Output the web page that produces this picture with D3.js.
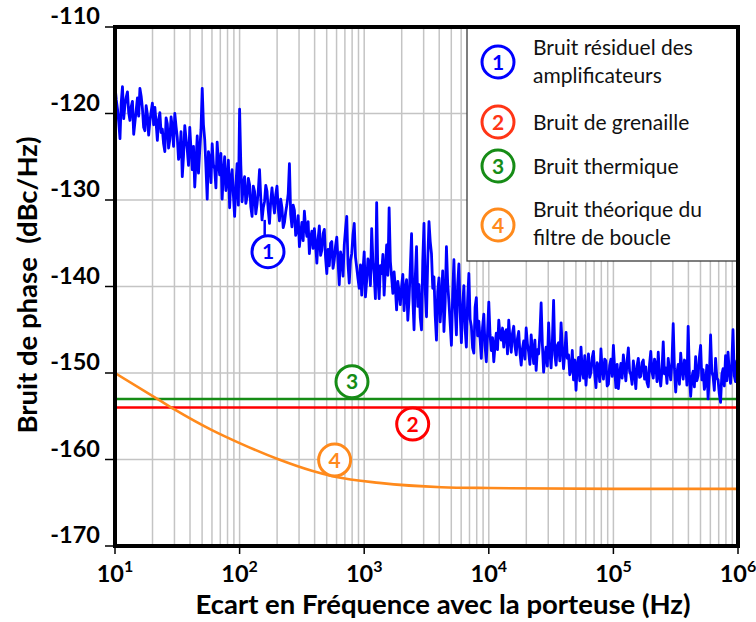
<!DOCTYPE html>
<html>
<head>
<meta charset="utf-8">
<script src="https://cdn.jsdelivr.net/npm/d3@7"></script>
<style>
  body { margin: 0; background: #fff; }
  svg { display: block; }
  text { font-family: Lato, "Open Sans", sans-serif; }
</style>
</head>
<body>
<svg id="chart" width="756" height="622"></svg>
<script>
// Residual amplifier phase noise (dBc/Hz), 100 samples per decade from 10 Hz to 1 MHz
const residualDb = [
  // 10 Hz - 100 Hz
  -116.8, -118.4, -119.5, -121.0, -122.9, -118.7, -116.9, -120.6, -119.0, -118.1,
  -117.5, -119.9, -120.8, -119.2, -118.6, -122.4, -121.0, -119.6, -118.2, -120.3,
  -117.1, -118.0, -119.4, -121.6, -122.0, -119.1, -120.1, -122.5, -120.9, -119.8,
  -118.8, -121.3, -119.3, -121.1, -123.1, -120.7, -119.9, -122.2, -121.8, -123.5,
  -124.4, -120.5, -121.2, -124.0, -123.0, -120.4, -121.6, -123.8, -120.0, -121.5,
  -122.8, -125.3, -124.6, -122.1, -127.3, -124.9, -121.4, -122.9, -124.2, -126.0,
  -121.6, -124.1, -126.5, -123.8, -128.5, -125.6, -122.6, -126.9, -124.3, -121.9,
  -117.1, -121.3, -123.0, -126.2, -129.9, -124.4, -125.2, -128.0, -123.5, -125.9,
  -126.4, -128.6, -123.3, -125.7, -127.1, -124.6, -129.9, -126.8, -125.0, -128.9,
  -127.8, -125.4, -130.9, -127.6, -126.5, -129.4, -131.9, -128.3, -125.8, -130.6,
  // 100 Hz - 1 kHz
  -119.5, -126.0, -130.2, -128.1, -127.3, -130.4, -129.6, -127.5, -128.2, -130.8,
  -131.9, -128.4, -129.0, -131.6, -130.5, -128.9, -126.5, -129.8, -132.3, -130.9,
  -130.2, -128.3, -129.0, -131.2, -132.7, -130.1, -128.6, -130.3, -131.5, -129.4,
  -128.4, -131.0, -132.4, -129.9, -130.9, -133.2, -132.6, -131.4, -130.5, -129.3,
  -125.8, -131.7, -133.1, -130.6, -131.2, -134.1, -133.5, -131.8, -135.4, -133.9,
  -132.6, -134.7, -131.3, -133.2, -134.2, -132.5, -136.2, -134.4, -133.6, -135.6,
  -133.3, -135.1, -137.3, -134.5, -133.0, -136.4, -135.8, -133.9, -133.4, -136.7,
  -138.5, -135.7, -137.6, -135.0, -134.8, -137.9, -136.9, -135.3, -134.3, -137.1,
  -139.8, -136.0, -136.7, -138.8, -135.2, -133.4, -131.9, -137.4, -139.6, -137.0,
  -136.2, -134.0, -132.7, -136.6, -137.8, -139.1, -140.2, -137.5, -141.0, -138.2,
  // 1 kHz - 10 kHz
  -136.0, -141.2, -139.3, -136.8, -137.5, -139.9, -133.3, -137.2, -138.6, -141.4,
  -130.3, -139.0, -141.4, -137.6, -138.5, -136.3, -141.0, -138.0, -135.2, -138.7,
  -130.9, -137.1, -138.9, -140.8, -138.3, -140.1, -142.7, -139.4, -140.6, -142.1,
  -140.0, -138.6, -142.8, -140.3, -139.2, -143.9, -141.5, -137.8, -133.9, -141.2,
  -145.0, -138.9, -135.4, -142.3, -139.8, -143.6, -145.0, -137.0, -132.7, -140.5,
  -143.5, -136.9, -132.5, -134.8, -136.2, -140.2, -138.9, -143.4, -146.2, -140.6,
  -139.0, -144.1, -141.3, -138.2, -145.2, -141.7, -135.4, -139.6, -141.8, -144.3,
  -146.8, -140.9, -136.9, -142.5, -145.6, -139.8, -137.4, -143.0, -146.5, -142.2,
  -139.9, -144.9, -147.0, -141.6, -138.5, -143.8, -144.6, -147.1, -147.7, -142.4,
  -141.3, -145.7, -144.0, -146.1, -148.3, -144.7, -143.2, -146.9, -148.7, -145.3,
  // 10 kHz - 100 kHz
  -141.8, -145.6, -147.4, -145.9, -148.7, -146.8, -145.4, -147.3, -143.9, -145.7,
  -146.2, -144.8, -147.0, -145.3, -145.0, -147.8, -143.9, -146.1, -147.6, -145.4,
  -144.6, -146.9, -147.9, -146.0, -145.2, -147.7, -149.1, -147.2, -146.3, -148.4,
  -144.8, -146.6, -147.6, -149.0, -145.6, -147.4, -148.9, -146.2, -149.7, -147.3,
  -147.8, -145.5, -141.9, -146.7, -149.9, -148.1, -147.0, -149.2, -144.2, -147.5,
  -149.4, -146.4, -141.6, -147.9, -149.1, -146.8, -146.5, -148.6, -144.2, -147.1,
  -149.5, -147.6, -145.3, -148.3, -147.9, -150.2, -149.6, -147.4, -150.8, -148.5,
  -152.0, -149.0, -148.2, -150.9, -147.0, -149.8, -150.6, -148.0, -151.4, -149.3,
  -147.8, -150.5, -149.9, -148.2, -147.5, -150.1, -151.7, -148.8, -149.2, -151.0,
  -147.2, -149.7, -150.7, -148.4, -148.6, -151.5, -151.3, -149.1, -148.4, -150.4,
  // 100 kHz - 1 MHz
  -146.8, -149.5, -151.7, -149.0, -151.8, -150.1, -148.9, -150.6, -147.9, -149.4,
  -150.9, -148.6, -147.1, -149.8, -150.2, -151.3, -148.6, -150.0, -151.8, -149.2,
  -148.3, -150.5, -150.4, -148.8, -148.5, -150.7, -149.3, -151.1, -151.6, -149.0,
  -147.5, -149.9, -150.6, -148.4, -149.0, -151.0, -147.6, -150.3, -151.5, -149.6,
  -146.4, -150.1, -149.4, -151.2, -148.3, -149.7, -150.8, -148.7, -144.3, -149.5,
  -152.2, -150.0, -149.0, -151.3, -147.7, -149.6, -150.7, -148.5, -148.9, -151.4,
  -144.6, -150.2, -152.7, -150.5, -149.8, -151.6, -148.1, -150.9, -150.3, -148.2,
  -146.8, -150.8, -149.6, -151.9, -151.2, -149.1, -153.0, -150.4, -145.6, -149.9,
  -150.4, -152.0, -148.3, -150.6, -150.8, -152.4, -153.4, -150.2, -149.5, -151.5,
  -148.0, -150.9, -147.6, -149.8, -151.2, -148.9, -145.0, -150.3, -151.0, -148.6,
  -149.3
];
const samplesPerDecade = 100;

// Theoretical loop-filter noise
const loopFreq = [10, 22.5, 30, 60, 100, 207, 380, 583, 1320, 4170, 1e4, 1e5, 1e6];
const loopDb   = [-150.0, -153.1, -154.2, -156.6, -158.1, -160.0, -161.3, -162.0, -162.7, -163.2, -163.3, -163.4, -163.4];

// Flat floors
const shotDb = -154;      // bruit de grenaille
const thermalDb = -153;   // bruit thermique

const xDecades = [1, 2, 3, 4, 5, 6];
const yTicks = [-170, -160, -150, -140, -130, -120, -110];

const legendNumbers = ["1", "2", "3", "4"];
const legendLabels = [
  ["Bruit résiduel des", "amplificateurs"],
  ["Bruit de grenaille"],
  ["Bruit thermique"],
  ["Bruit théorique du", "filtre de boucle"]
];
const xTitle = "Ecart en Fréquence avec la porteuse (Hz)";
const yTitle = "Bruit de phase\u00a0\u00a0(dBc/Hz)";

// ---- layout & styles ----
const colors = { blue: "#0000ff", red: "#ff0000", green: "#168c16", orange: "#ff8a1c", legendRed: "#ff3516" };
const legendColors = [colors.blue, colors.legendRed, colors.green, colors.orange];

const plot = { left: 115, top: 27, right: 738, bottom: 546 };
const svg = d3.select("#chart");

const x = d3.scaleLog().domain([10, 1e6]).range([plot.left, plot.right]);
const y = d3.scaleLinear().domain([-170, -110]).range([plot.bottom, plot.top]);

// grid
const minorFreqs = [];
for (let d = 1; d <= 5; d++) for (let m = 1; m <= 9; m++) minorFreqs.push(m * 10 ** d);
minorFreqs.push(1e6);

const grid = svg.append("g").attr("stroke", "#c4c4c4").attr("stroke-width", 1.5);
grid.selectAll("line.v").data(minorFreqs).join("line")
  .attr("x1", d => x(d)).attr("x2", d => x(d))
  .attr("y1", plot.top).attr("y2", plot.bottom);
grid.selectAll("line.h").data(yTicks).join("line")
  .attr("x1", plot.left).attr("x2", plot.right)
  .attr("y1", d => y(d)).attr("y2", d => y(d));

// clip
svg.append("clipPath").attr("id", "plotClip").append("rect")
  .attr("x", plot.left).attr("y", plot.top)
  .attr("width", plot.right - plot.left).attr("height", plot.bottom - plot.top);

const dataG = svg.append("g").attr("clip-path", "url(#plotClip)");

// horizontal floors
dataG.append("line")
  .attr("x1", x(10)).attr("x2", x(1e6))
  .attr("y1", y(thermalDb)).attr("y2", y(thermalDb))
  .attr("stroke", colors.green).attr("stroke-width", 2.5);
dataG.append("line")
  .attr("x1", x(10)).attr("x2", x(1e6))
  .attr("y1", y(shotDb)).attr("y2", y(shotDb))
  .attr("stroke", colors.red).attr("stroke-width", 2.5);

// loop filter curve
const loopPts = loopFreq.map((f, i) => [f, loopDb[i]]);
dataG.append("path")
  .attr("d", d3.line().x(d => x(d[0])).y(d => y(d[1])).curve(d3.curveMonotoneX)(loopPts))
  .attr("fill", "none").attr("stroke", colors.orange).attr("stroke-width", 2.6);

// residual noise trace
const residualPts = residualDb.map((v, i) => [10 ** (1 + i / samplesPerDecade), v]);
dataG.append("path")
  .attr("d", d3.line().x(d => x(d[0])).y(d => y(d[1]))(residualPts))
  .attr("fill", "none").attr("stroke", colors.blue).attr("stroke-width", 2.8)
  .attr("stroke-linejoin", "round");

// numbered markers on the curves
const markers = [
  { n: "1", f: 169, db: -135.98, color: colors.blue },
  { n: "3", f: 798, db: -151.0, color: colors.green },
  { n: "2", f: 2450, db: -155.9, color: colors.red },
  { n: "4", f: 579, db: -160.06, color: colors.orange }
];
const r = 16;
svg.append("line")
  .attr("x1", x(159)).attr("x2", x(159))
  .attr("y1", y(-132.3)).attr("y2", y(-135.98) - r)
  .attr("stroke", colors.blue).attr("stroke-width", 2.5);
const mk = svg.selectAll("g.marker").data(markers).join("g")
  .attr("transform", d => `translate(${x(d.f)},${y(d.db)})`);
mk.append("circle").attr("r", r).attr("fill", "#fff")
  .attr("stroke", d => d.color).attr("stroke-width", 3);
mk.append("text").attr("text-anchor", "middle").attr("y", 7.5)
  .attr("font-size", 21).attr("font-weight", 700)
  .attr("fill", d => d.color).text(d => d.n);

// legend
const lg = svg.append("g");
lg.append("rect").attr("x", 467).attr("y", plot.top)
  .attr("width", plot.right - 467).attr("height", 261 - plot.top)
  .attr("fill", "#fff").attr("stroke", "#3a3a3a").attr("stroke-width", 1.3);
const legendRows = [
  { cy: 62, baselines: [55, 83] },
  { cy: 122, baselines: [130] },
  { cy: 166, baselines: [174] },
  { cy: 225, baselines: [217, 245] }
];
legendRows.forEach((row, i) => {
  const g = lg.append("g");
  g.append("circle").attr("cx", 498).attr("cy", row.cy).attr("r", r)
    .attr("fill", "#fff").attr("stroke", legendColors[i]).attr("stroke-width", 3);
  g.append("text").attr("x", 498).attr("y", row.cy + 7.5).attr("text-anchor", "middle")
    .attr("font-size", 21).attr("font-weight", 700).attr("fill", legendColors[i])
    .text(legendNumbers[i]);
  legendLabels[i].forEach((line, j) => {
    g.append("text").attr("x", 533).attr("y", row.baselines[j])
      .attr("font-size", 21).attr("fill", "#111").text(line);
  });
});

// axes ticks & labels
const axisG = svg.append("g");
axisG.selectAll("line.yt").data(yTicks).join("line")
  .attr("x1", plot.left - 10).attr("x2", plot.left)
  .attr("y1", d => y(d)).attr("y2", d => y(d))
  .attr("stroke", "#000").attr("stroke-width", 1.5);
axisG.selectAll("text.yl").data(yTicks).join("text")
  .attr("x", 100).attr("y", d => y(d) - 3)
  .attr("text-anchor", "end").attr("font-size", 23.5).attr("font-weight", 700)
  .attr("fill", "#000").text(d => d3.format("d")(d).replace("−", "-"));

axisG.selectAll("line.xt").data(xDecades).join("line")
  .attr("x1", d => x(10 ** d)).attr("x2", d => x(10 ** d))
  .attr("y1", plot.bottom).attr("y2", plot.bottom + 8)
  .attr("stroke", "#000").attr("stroke-width", 1.5);
const xl = axisG.selectAll("text.xl").data(xDecades).join("text")
  .attr("x", d => x(10 ** d)).attr("y", 582)
  .attr("text-anchor", "middle").attr("font-weight", 700).attr("fill", "#000");
xl.append("tspan").attr("font-size", 23.5).text("10");
xl.append("tspan").attr("font-size", 16).attr("dy", -10).text(d => d);

// frame
svg.append("rect").attr("x", plot.left).attr("y", plot.top)
  .attr("width", plot.right - plot.left).attr("height", plot.bottom - plot.top)
  .attr("fill", "none").attr("stroke", "#000").attr("stroke-width", 4);

// titles
svg.append("text").attr("x", 443).attr("y", 614).attr("text-anchor", "middle")
  .attr("font-size", 27.5).attr("font-weight", 700).attr("fill", "#000").text(xTitle);
svg.append("text").attr("transform", `translate(37,285) rotate(-90)`)
  .attr("text-anchor", "middle").attr("font-size", 27.5).attr("font-weight", 700)
  .attr("fill", "#000").text(yTitle);
</script>
</body>
</html>
